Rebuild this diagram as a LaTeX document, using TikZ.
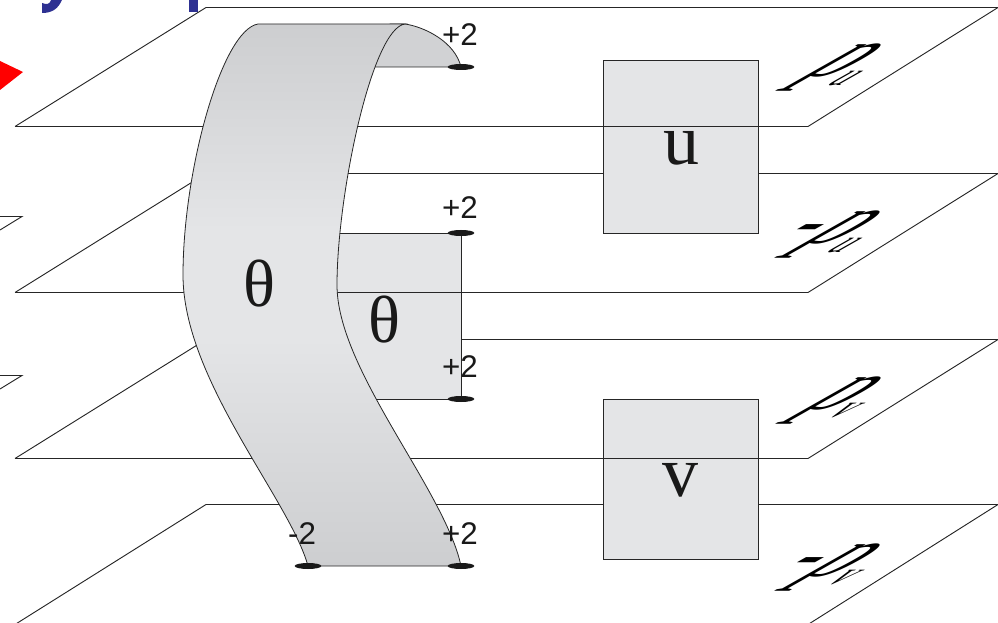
\documentclass[tikz,border=0pt]{standalone}
\usepackage{fontspec}
\setmainfont{Liberation Serif}
\newfontfamily\arialf{Liberation Sans}
\usetikzlibrary{shapes.geometric}
\definecolor{boxgray}{HTML}{E4E5E7}
\definecolor{bandend}{HTML}{CDCED0}
\definecolor{tabgray}{HTML}{D1D2D4}
\definecolor{linegray}{HTML}{262626}
\definecolor{titleblue}{HTML}{2E3192}
\pgfdeclareverticalshading{bandshade}{100bp}{color(0bp)=(bandend); color(25bp)=(bandend); color(46bp)=(boxgray); color(56bp)=(boxgray); color(75bp)=(bandend); color(100bp)=(bandend)}
\tikzset{
  x=0.75pt,y=-0.75pt,
  planeline/.style={draw=linegray,line width=0.7pt},
  boxstyle/.style={fill=boxgray,draw=linegray,line width=0.7pt},
  bandstyle/.style={draw=linegray,line width=0.6pt},
  dotstyle/.style={fill=black!90,draw=none,ellipse,minimum width=20pt,minimum height=4.5pt,inner sep=0pt},
  numlabel/.style={font=\arialf\fontsize{23.5}{24}\selectfont,text=black!90,inner sep=0pt,anchor=center},
  biglabel/.style={font=\fontsize{50}{52}\selectfont,text=black!90,inner sep=0pt,anchor=center},
  wordlabel/.style={font=\fontsize{54}{54}\selectfont,text=black!90,inner sep=0pt,anchor=center},
  pglyph/.style={inner sep=0pt,anchor=base west,font=\fontsize{40}{40}\selectfont,text=black},
}
\newcommand{\psub}[1]{p\kern3pt\raisebox{-5pt}{\fontsize{18}{18}\selectfont #1}}
\begin{document}
\begin{tikzpicture}
\useasboundingbox (0,0) rectangle (998,623);
\begin{scope}
\clip (0,0) rectangle (998,623);
% title fragments
\fill[titleblue] (42,3) .. controls (47,5) and (50,4) .. (51,0) -- (62,0) .. controls (58,9) and (52,13) .. (42,13) -- cycle;
\fill[titleblue] (188.5,0) rectangle (198,12.5);
% red arrow
\fill[red] (0,61) -- (23,72) -- (0,90) -- cycle;
% left fragments
\draw[planeline] (0,216.5) -- (22,216.5) -- (0,230);
\draw[planeline] (0,375.5) -- (22,375.5) -- (0,389);
% planes
\coordinate (p1fl) at (15,126.5); \coordinate (p1bl) at (206,7.5); \coordinate (p1br) at (998,7.5); \coordinate (p1fr) at (808,126.5);
\coordinate (p2fl) at (15,292.5); \coordinate (p2bl) at (206,173.5); \coordinate (p2br) at (998,173.5); \coordinate (p2fr) at (808,292.5);
\coordinate (p3fl) at (15,458.5); \coordinate (p3bl) at (206,339.5); \coordinate (p3br) at (998,339.5); \coordinate (p3fr) at (808,458.5);
\coordinate (p4fl) at (15,624.5); \coordinate (p4bl) at (206,504.5); \coordinate (p4br) at (998,504.5); \coordinate (p4fr) at (808,624.5);
\draw[planeline] (p4fl) -- (p4bl) -- (p4br);
\draw[planeline] (p4fr) -- (p4br);
\draw[planeline] (p3fl) -- (p3bl) -- (p3br);
\draw[planeline] (p3fr) -- (p3br);
\draw[planeline] (p2fl) -- (p2bl) -- (p2br);
\draw[planeline] (p2fr) -- (p2br);
\draw[planeline] (p1fl) -- (p1bl) -- (p1br) -- (p1fr);
% boxes
\draw[boxstyle] (603,60) rectangle (758,233);
\draw[boxstyle] (603,399) rectangle (758,559);
\draw[boxstyle] (300,233) -- (461,233) -- (461,399) -- (300,399);
% front lines over
\draw[planeline] (p1fl) -- (p1fr);
\draw[planeline] (p2fl) -- (p2fr);
\draw[planeline] (p3fl) -- (p3fr);
% tab
\draw[fill=tabgray,bandstyle] (390,24) -- (405,24) .. controls (425,27) and (455,42) .. (461,67) -- (360,67) -- cycle;
% band
\path[shade,shading=bandshade]
 (258,24) -- (405,24)
 .. controls (372,28) and (337,195) .. (337,285)
 .. controls (337,370) and (445,490) .. (461,566)
 -- (308,566)
 .. controls (290,500) and (183,380) .. (183,275)
 .. controls (183,170) and (222,30) .. (258,24) -- cycle;
\draw[bandstyle] (258,24) -- (405,24)
 .. controls (372,28) and (337,195) .. (337,285)
 .. controls (337,370) and (445,490) .. (461,566)
 -- (308,566)
 .. controls (290,500) and (183,380) .. (183,275)
 .. controls (183,170) and (222,30) .. (258,24) -- cycle;
% dots
\node[dotstyle] (d1) at (461,67) {};
\node[dotstyle] (d2) at (461,233) {};
\node[dotstyle] (d3) at (461,399) {};
\node[dotstyle] (d4) at (461,566) {};
\node[dotstyle] (d5) at (308,566) {};
% numbers
\node[numlabel] (n1) at (460,35) {+2};
\node[numlabel] (n2) at (460,208) {+2};
\node[numlabel] (n3) at (460,367) {+2};
\node[numlabel] (n4) at (460,534) {+2};
\node[numlabel] (n5) at (302,534) {-2};
% letters
\node[biglabel] (t1) at (259,284) {θ};
\node[biglabel] (t2) at (384,320) {θ};
\node[wordlabel] (u) at (681,148) {u};
\node[wordlabel] (v) at (680,480) {v};
% p glyphs
\node[pglyph,cm={1.3,0,2.3,1.3,(800,77)}] (pa) {\psub{u}};
\node[pglyph,cm={1.3,0,2.3,1.3,(770,244)}] (pb) {-\kern3.5pt\psub{u}};
\node[pglyph,cm={1.3,0,2.3,1.3,(800,409)}] (pc) {\psub{v}};
\node[pglyph,cm={1.3,0,2.3,1.3,(770,576)}] (pd) {-\kern3.5pt\psub{v}};
\end{scope}
\end{tikzpicture}
\end{document}
